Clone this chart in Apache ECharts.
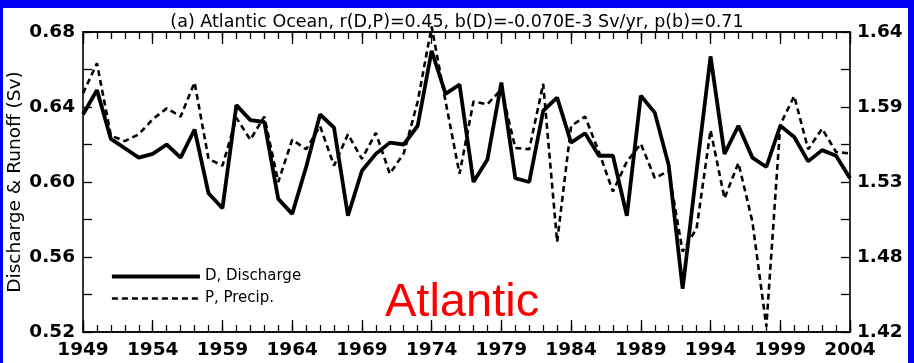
<!DOCTYPE html>
<html>
<head>
<meta charset="utf-8">
<title>Atlantic Ocean discharge and precipitation</title>
<script src="https://cdn.jsdelivr.net/npm/echarts@6/dist/echarts.min.js"></script>
<style>
  html, body { margin: 0; padding: 0; background: #ffffff; }
  #chart { width: 914px; height: 363px; }
</style>
</head>
<body>
<div id="chart"></div>
<script>
// Years 1949-2004 along the bottom
const years = ['1949','1950','1951','1952','1953','1954','1955','1956','1957','1958',
  '1959','1960','1961','1962','1963','1964','1965','1966','1967','1968',
  '1969','1970','1971','1972','1973','1974','1975','1976','1977','1978',
  '1979','1980','1981','1982','1983','1984','1985','1986','1987','1988',
  '1989','1990','1991','1992','1993','1994','1995','1996','1997','1998',
  '1999','2000','2001','2002','2003','2004'];

// D, discharge (Sv, left axis)
const discharge = [0.636, 0.649, 0.623, 0.618, 0.613, 0.615, 0.620, 0.613, 0.628, 0.594,
  0.586, 0.641, 0.633, 0.632, 0.591, 0.583, 0.608, 0.636, 0.629, 0.582,
  0.606, 0.615, 0.621, 0.620, 0.630, 0.670, 0.647, 0.652, 0.600, 0.612,
  0.653, 0.602, 0.600, 0.638, 0.645, 0.621, 0.626, 0.614, 0.614, 0.582,
  0.646, 0.637, 0.609, 0.543, 0.606, 0.667, 0.615, 0.630, 0.613, 0.608,
  0.630, 0.624, 0.611, 0.617, 0.614, 0.602];

// P, precipitation (Sv, right axis)
const precip = [1.595, 1.617, 1.564, 1.560, 1.565, 1.576, 1.584, 1.578, 1.603, 1.547,
  1.542, 1.577, 1.561, 1.578, 1.530, 1.561, 1.554, 1.571, 1.542, 1.565,
  1.547, 1.566, 1.536, 1.551, 1.589, 1.644, 1.589, 1.536, 1.589, 1.587,
  1.598, 1.555, 1.554, 1.602, 1.486, 1.571, 1.578, 1.552, 1.523, 1.545,
  1.558, 1.533, 1.538, 1.479, 1.496, 1.568, 1.518, 1.544, 1.501, 1.424,
  1.572, 1.593, 1.554, 1.569, 1.552, 1.551];

const leftTickLabels = ['0.52', '0.56', '0.60', '0.64', '0.68'];
const rightTickLabels = ['1.42', '1.48', '1.53', '1.59', '1.64'];

const FONT = '"DejaVu Sans", Verdana, sans-serif';
const RED_FONT = '"Liberation Sans", Arial, Helvetica, sans-serif';
const chart = echarts.init(document.getElementById('chart'), null, { renderer: 'canvas' });

// Category x axes: minor ticks every year, major ticks every five years, mirrored on top
function xAxisDef(position, tickLen, every, showLabels) {
  return {
    type: 'category',
    data: years,
    position: position,
    boundaryGap: false,
    axisLine: { show: true, onZero: false, lineStyle: { color: '#000', width: 1.6 } },
    axisTick: {
      show: true, inside: true, length: tickLen, alignWithLabel: true,
      interval: function (i) { return i % every === 0; },
      lineStyle: { color: '#000', width: 1.3 }
    },
    axisLabel: {
      show: showLabels, margin: 9,
      interval: function (i) { return i % 5 === 0; },
      color: '#000', fontFamily: FONT, fontWeight: 'bold', fontSize: 18.5
    },
    splitLine: { show: false }
  };
}

const option = {
  backgroundColor: '#ffffff',
  animation: false,
  title: {
    text: '(a) Atlantic Ocean, r(D,P)=0.45, b(D)=-0.070E-3 Sv/yr, p(b)=0.71',
    left: 'center', top: 8,
    textStyle: { color: '#000', fontFamily: FONT, fontWeight: 'normal', fontSize: 17.5 }
  },
  grid: { left: 83, right: 64, top: 32, bottom: 31, containLabel: false, outerBoundsMode: 'none' },
  legend: {
    orient: 'vertical', left: 105, top: 264, itemWidth: 88, itemHeight: 14, itemGap: 7,
    data: ['D, Discharge', 'P, Precip.'],
    itemStyle: { color: 'rgba(0,0,0,0)', borderWidth: 0, opacity: 0 },
    lineStyle: { width: 'inherit' },
    textStyle: { color: '#000', fontFamily: FONT, fontSize: 15 }
  },
  xAxis: [
    xAxisDef('bottom', 7, 1, true),
    xAxisDef('bottom', 12, 5, false),
    xAxisDef('top', 7, 1, false),
    xAxisDef('top', 12, 5, false)
  ],
  yAxis: [
    {
      type: 'value', position: 'left', min: 0.52, max: 0.68, interval: 0.02,
      name: 'Discharge & Runoff (Sv)', nameLocation: 'middle', nameGap: 58, nameRotate: 90,
      nameMoveOverlap: false,
      nameTextStyle: { color: '#000', fontFamily: FONT, fontSize: 18.5 },
      axisLine: { show: true, lineStyle: { color: '#000', width: 1.6 } },
      axisTick: { show: true, inside: true, length: 9, lineStyle: { color: '#000', width: 1.3 } },
      axisLabel: {
        margin: 8, color: '#000', fontFamily: FONT, fontWeight: 'bold', fontSize: 18.5,
        formatter: function (v, i) { return i % 2 === 0 ? leftTickLabels[i / 2] : ''; }
      },
      splitLine: { show: false }
    },
    {
      type: 'value', position: 'right', min: 1.42, max: 1.64, alignTicks: true,
      axisLine: { show: true, lineStyle: { color: '#000', width: 1.6 } },
      axisTick: { show: true, inside: true, length: 9, lineStyle: { color: '#000', width: 1.3 } },
      axisLabel: {
        margin: 7, color: '#000', fontFamily: FONT, fontWeight: 'bold', fontSize: 18.5,
        formatter: function (v, i) { return i % 2 === 0 ? (rightTickLabels[i / 2] || '') : ''; }
      },
      splitLine: { show: false }
    }
  ],
  graphic: [
    // blue frame around the panel
    { type: 'rect', left: 0, top: 0, shape: { width: 914, height: 8 }, style: { fill: '#0000f5' }, z: 100 },
    { type: 'rect', left: 0, top: 0, shape: { width: 3, height: 363 }, style: { fill: '#0000f5' }, z: 100 },
    { type: 'rect', left: 908, top: 0, shape: { width: 6, height: 363 }, style: { fill: '#0000f5' }, z: 100 },
    {
      type: 'text', left: 385, top: 280, z: 50,
      style: { text: 'Atlantic', fill: '#ff0000', font: '47px ' + RED_FONT }
    }
  ],
  series: [
    {
      name: 'P, Precip.', type: 'line', xAxisIndex: 0, yAxisIndex: 1,
      data: precip, symbol: 'none', clip: false, z: 3,
      itemStyle: { color: '#000' },
      lineStyle: { color: '#000', width: 2.6, type: [6, 4] }
    },
    {
      name: 'D, Discharge', type: 'line', xAxisIndex: 0, yAxisIndex: 0,
      data: discharge, symbol: 'none', clip: false, z: 4,
      itemStyle: { color: '#000' },
      lineStyle: { color: '#000', width: 3.8, type: 'solid' }
    }
  ]
};

chart.setOption(option);
</script>
</body>
</html>
